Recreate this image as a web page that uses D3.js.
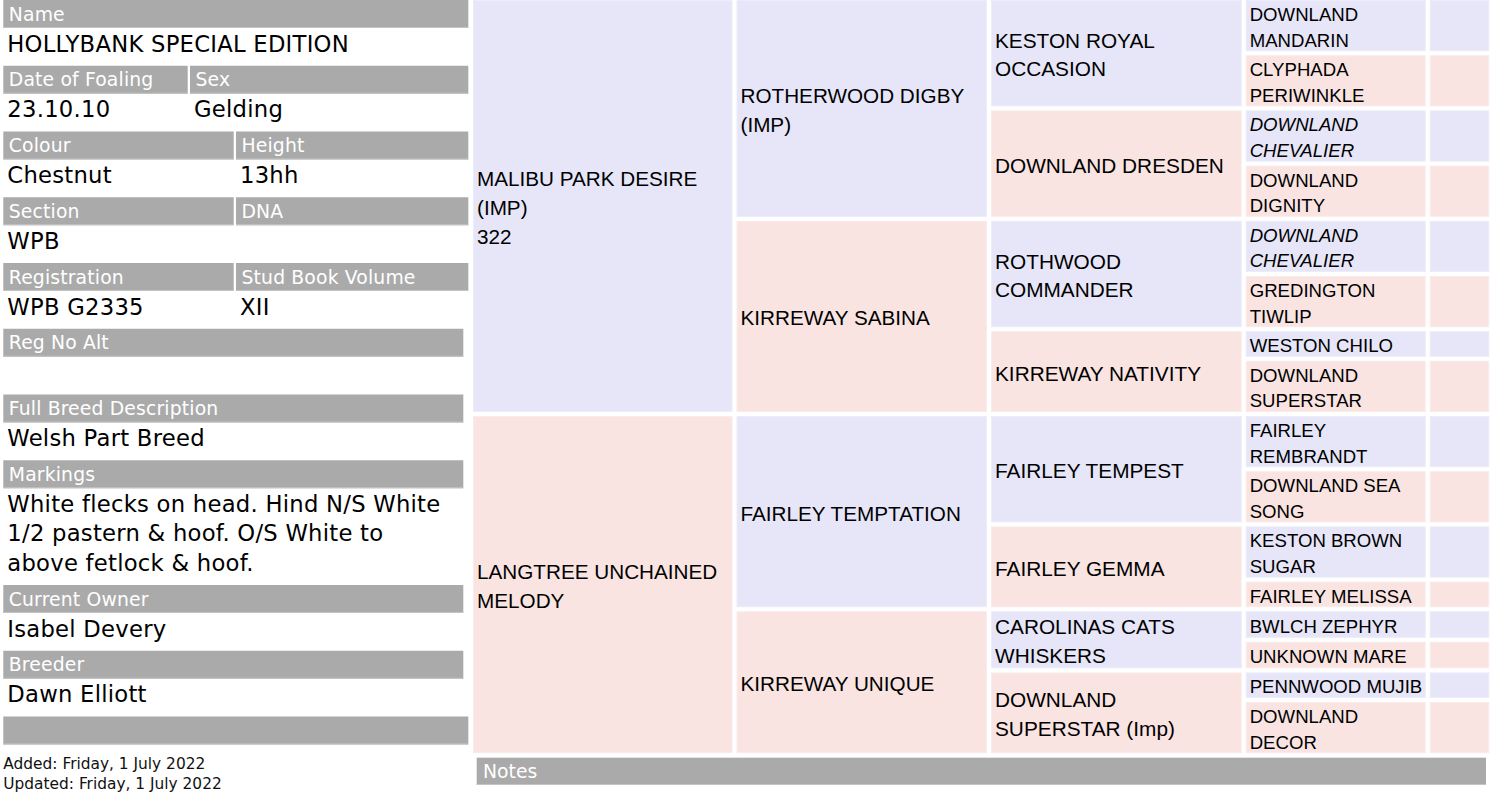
<!DOCTYPE html>
<html>
<head>
<meta charset="utf-8">
<script src="https://cdn.jsdelivr.net/npm/d3@7"></script>
<style>
  html, body { margin: 0; padding: 0; background: #fff; }
  svg { display: block; }
</style>
</head>
<body>
<svg id="chart" width="1500" height="812"></svg>
<script>

// --- horse details (left panel) ---
var fieldLabels = [
    ["Name"],
    ["Date of Foaling", "Sex"],
    ["Colour", "Height"],
    ["Section", "DNA"],
    ["Registration", "Stud Book Volume"],
    ["Reg No Alt"],
    ["Full Breed Description"],
    ["Markings"],
    ["Current Owner"],
    ["Breeder"],
    [""]
];
var fieldValues = [
    ["HOLLYBANK SPECIAL EDITION"],
    ["23.10.10", "Gelding"],
    ["Chestnut", "13hh"],
    ["WPB", ""],
    ["WPB G2335", "XII"],
    [""],
    ["Welsh Part Breed"],
    ["White flecks on head. Hind N/S White\n1/2 pastern & hoof. O/S White to\nabove fetlock & hoof."],
    ["Isabel Devery"],
    ["Dawn Elliott"],
    []
];
var footerLines = ["Added: Friday, 1 July 2022", "Updated: Friday, 1 July 2022"];
var notesLabel = "Notes";

// --- pedigree, each generation listed top to bottom (sire, dam, ...) ---
var gen1 = ["MALIBU PARK DESIRE\n(IMP)\n322", "LANGTREE UNCHAINED\nMELODY"];
var gen2 = ["ROTHERWOOD DIGBY\n(IMP)", "KIRREWAY SABINA", "FAIRLEY TEMPTATION", "KIRREWAY UNIQUE"];
var gen3 = ["KESTON ROYAL\nOCCASION", "DOWNLAND DRESDEN", "ROTHWOOD\nCOMMANDER", "KIRREWAY NATIVITY",
            "FAIRLEY TEMPEST", "FAIRLEY GEMMA", "CAROLINAS CATS\nWHISKERS", "DOWNLAND\nSUPERSTAR (Imp)"];
var gen4 = ["DOWNLAND\nMANDARIN", "CLYPHADA\nPERIWINKLE", "DOWNLAND\nCHEVALIER", "DOWNLAND\nDIGNITY",
            "DOWNLAND\nCHEVALIER", "GREDINGTON\nTIWLIP", "WESTON CHILO", "DOWNLAND\nSUPERSTAR",
            "FAIRLEY\nREMBRANDT", "DOWNLAND SEA\nSONG", "KESTON BROWN\nSUGAR", "FAIRLEY MELISSA",
            "BWLCH ZEPHYR", "UNKNOWN MARE", "PENNWOOD MUJIB", "DOWNLAND\nDECOR"];
var gen5 = d3.range(16).map(function() { return ""; });
var gen4Italic = [2, 4];

// --- look ---
var headGrey  = '#aaaaaa',
    headEdge  = '#c4c4c4',
    sireFill  = '#e6e6f8',
    sireEdge  = '#ececfa',
    damFill   = '#f9e4e2',
    damEdge   = '#fbeceb';

var leftFont = '"DejaVu Sans", Verdana, sans-serif',
    pedFont  = '"Liberation Sans", Arial, sans-serif';

var svg = d3.select('#chart');

// ================= left panel =================
var headH = 28, rowPitch = 65.75, valLine = 29.5;
var fullRight = [468.3, 468.3, 468.3, 468.3, 468.3, 463.3, 463.3, 463.3, 463.3, 463.3, 468.3];
var splitAt   = [null, 190, 236, 236, 236];

var rowTops = [];
var acc = 0;
fieldLabels.forEach(function(l, i) {
    rowTops.push(acc);
    var lines = fieldValues[i].length ? fieldValues[i][0].split('\n').length : 1;
    acc += rowPitch + (lines - 1) * valLine;
});

var left = svg.append('g').attr('class', 'details');

fieldLabels.forEach(function(labels, i) {
    var top = rowTops[i];
    var cols = labels.length === 2
        ? [[3.3, splitAt[i] - 2.3], [splitAt[i], fullRight[i]]]
        : [[3.3, fullRight[i]]];

    var g = left.append('g').attr('transform', 'translate(0,' + top + ')');

    g.selectAll('rect.head')
        .data(cols)
        .enter()
            .append('rect')
            .attr('class', 'head')
            .attr('x', function(d) { return d[0]; })
            .attr('y', 0)
            .attr('width', function(d) { return d[1] - d[0]; })
            .attr('height', headH)
            .attr('fill', headGrey);

    g.selectAll('line.edge')
        .data(cols)
        .enter()
            .append('line')
            .attr('class', 'edge')
            .attr('x1', function(d) { return d[0]; })
            .attr('x2', function(d) { return d[1]; })
            .attr('y1', headH - 0.5)
            .attr('y2', headH - 0.5)
            .attr('stroke', headEdge);

    g.selectAll('text.label')
        .data(labels)
        .enter()
            .append('text')
            .attr('class', 'label')
            .attr('x', function(d, j) { return cols[j][0] + 5.5; })
            .attr('y', 20.7)
            .attr('font-family', leftFont)
            .attr('font-size', '18.8px')
            .attr('letter-spacing', '0.15px')
            .attr('fill', '#fff')
            .text(function(d) { return d; });

    var vals = fieldValues[i];
    vals.forEach(function(v, j) {
        var t = g.append('text')
            .attr('x', cols[j][0] + 4)
            .attr('font-family', leftFont)
            .attr('font-size', '22.7px')
            .attr('letter-spacing', '0.25px')
            .attr('fill', '#000');
        t.selectAll('tspan')
            .data(v.split('\n'))
            .enter()
                .append('tspan')
                .attr('x', cols[j][0] + 4)
                .attr('y', function(d, k) { return 51.5 + k * valLine; })
                .text(function(d) { return d; });
    });
});

left.selectAll('text.footer')
    .data(footerLines)
    .enter()
        .append('text')
        .attr('class', 'footer')
        .attr('x', 3.3)
        .attr('y', function(d, i) { return 769 + i * 19.5; })
        .attr('font-family', leftFont)
        .attr('font-size', '15.4px')
        .attr('fill', '#111')
        .text(function(d) { return d; });

// ================= pedigree =================
var generations = [gen1, gen2, gen3, gen4, gen5];
var nRows = gen4.length;
var GAP = 4;
var lineH = [28.6, 28.6, 28.6, 25.6, 25.6];
var fontSize = [20.7, 20.7, 20.8, 18.6, 18.6];

var linesOf = function(s) { return s === "" ? 1 : s.split('\n').length; };

// row heights grow like a table: last named generation sets the base,
// a spanning cell stretches its rows if its text needs more room
var rowH = gen4.map(function(s) { return linesOf(s) * lineH[3]; });
[2, 1, 0].forEach(function(g) {
    var span = nRows / generations[g].length;
    generations[g].forEach(function(s, j) {
        var need = linesOf(s) * lineH[g];
        var have = d3.sum(rowH.slice(j * span, (j + 1) * span)) + (span - 1) * GAP;
        if (need > have) {
            for (var r = j * span; r < (j + 1) * span; r++) {
                rowH[r] += (need - have) / span;
            }
        }
    });
});

var tops = [0];
rowH.forEach(function(h, i) { tops.push(tops[i] + h + GAP); });

var yScale = d3.scaleLinear().domain(d3.range(nRows + 1)).range(tops);
var xScale = d3.scaleLinear().domain(d3.range(6)).range([473, 736.5, 991, 1245.7, 1429.7, 1493.3]);

var cells = [];
generations.forEach(function(names, g) {
    var span = nRows / names.length;
    names.forEach(function(name, j) {
        cells.push({
            gen: g,
            index: j,
            name: name,
            r0: j * span,
            r1: (j + 1) * span,
            italic: g === 3 && gen4Italic.indexOf(j) >= 0
        });
    });
});

var ped = svg.append('g').attr('class', 'pedigree');

var cell = ped.selectAll('g.cell')
    .data(cells)
    .enter()
        .append('g')
        .attr('class', 'cell');

cell.append('rect')
    .attr('x', function(d) { return xScale(d.gen) + 0.5; })
    .attr('y', function(d) { return yScale(d.r0) + 0.5; })
    .attr('width', function(d) { return xScale(d.gen + 1) - GAP - xScale(d.gen) - 1; })
    .attr('height', function(d) { return yScale(d.r1) - GAP - yScale(d.r0) - 1; })
    .attr('fill', function(d) { return d.index % 2 ? damFill : sireFill; })
    .attr('stroke', function(d) { return d.index % 2 ? damEdge : sireEdge; })
    .attr('stroke-width', 1);

cell.append('text')
    .attr('font-family', pedFont)
    .attr('font-size', function(d) { return fontSize[d.gen] + 'px'; })
    .attr('font-style', function(d) { return d.italic ? 'italic' : 'normal'; })
    .attr('fill', '#000')
    .each(function(d) {
        var lines = d.name === "" ? [] : d.name.split('\n');
        var mid = (yScale(d.r0) + yScale(d.r1) - GAP) / 2;
        var lh = lineH[d.gen];
        var capHalf = fontSize[d.gen] * 0.716 / 2;
        d3.select(this).selectAll('tspan')
            .data(lines)
            .enter()
                .append('tspan')
                .attr('x', xScale(d.gen) + 4)
                .attr('y', function(t, k) {
                    return mid + (k - (lines.length - 1) / 2) * lh + capHalf + 1.5;
                })
                .text(function(t) { return t; });
    });

// notes bar under the pedigree
var notes = ped.append('g').attr('class', 'notes');
notes.append('rect')
    .attr('x', 476.7)
    .attr('y', 757.7)
    .attr('width', 1486 - 476.7)
    .attr('height', 27.3)
    .attr('fill', headGrey);
notes.append('line')
    .attr('x1', 476.7).attr('x2', 1486)
    .attr('y1', 784.5).attr('y2', 784.5)
    .attr('stroke', headEdge);
notes.append('text')
    .attr('x', 483)
    .attr('y', 778.4)
    .attr('font-family', leftFont)
    .attr('font-size', '18.8px')
    .attr('fill', '#fff')
    .text(notesLabel);

</script>
</body>
</html>
